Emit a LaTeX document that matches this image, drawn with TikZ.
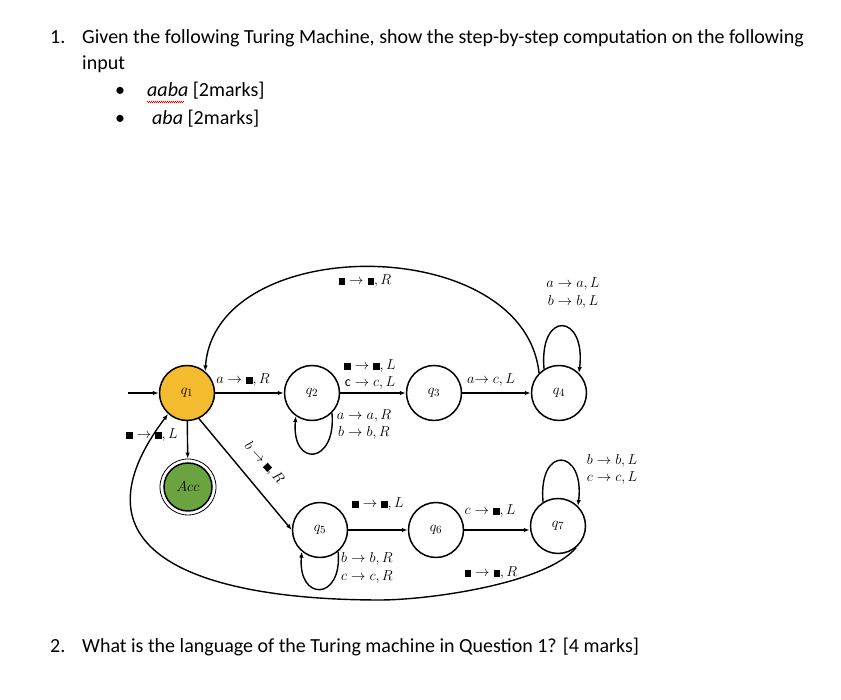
\documentclass[tikz,border=0pt]{standalone}
\usepackage{amssymb}
\usepackage{fontspec}
\setmainfont{Carlito}
\usetikzlibrary{arrows.meta,decorations.pathmorphing}
\definecolor{qone}{RGB}{244,187,46}
\definecolor{accg}{RGB}{106,163,63}
\newcommand{\blk}{\mbox{\rule{6.5pt}{6.5pt}}}
\begin{document}
\begin{tikzpicture}[x=1pt,y=1pt,
  state/.style={circle,draw,line width=1.5pt,minimum size=55pt,inner sep=0pt,font=\fontsize{15}{17}\selectfont},
  tr/.style={line width=1.4pt,-{Latex[length=6pt,width=4.5pt]}},
  lbl/.style={font=\fontsize{14}{16}\selectfont,inner sep=1pt},
  hd/.style={font=\fontsize{20}{24}\selectfont,anchor=base west,inner sep=0pt}]
\useasboundingbox (0,0) rectangle (841,700);
% header text
\node[hd] (n1) at (50,656) {1.};
\node[hd] (t1) at (82,656) {Given the following Turing Machine, show the step-by-step computation on the following};
\node[hd] (t2) at (82,630) {input};
\node[hd] (b1) at (115,603) {\textbullet};
\node[hd] (l1) at (147,603) {\textit{aaba} [2marks]};
\node[hd] (b2) at (115,575) {\textbullet};
\node[hd] (l2) at (152,575) {\textit{aba} [2marks]};
\draw[red,line width=0.5pt,decorate,decoration={zigzag,amplitude=0.8pt,segment length=2pt}] (147,598) -- (184,598);
\node[hd] (n2) at (50,47) {2.};
\node[hd] (t3) at (82,47) {What is the language of the Turing machine in Question 1? [4 marks]};
% states
\node[state,fill=qone] (q1) at (187,307) {$q_1$};
\node[state] (q2) at (312,307) {$q_2$};
\node[state] (q3) at (434,307) {$q_3$};
\node[state] (q4) at (559,307) {$q_4$};
\node[state] (q5) at (320,170) {$q_5$};
\node[state] (q6) at (436,170) {$q_6$};
\node[state] (q7) at (558,174) {$q_7$};
\node[circle,draw,line width=0.8pt,minimum size=56pt,inner sep=0pt] (acco) at (188,213) {};
\node[circle,draw,line width=1.5pt,fill=accg,minimum size=48pt,inner sep=0pt,font=\fontsize{15}{17}\selectfont] (acc) at (188,213) {$Acc$};
% connectors
\coordinate (start) at (128,307);
\draw[tr] (start) -- (q1);
\draw[tr] (q1) -- (q2);
\draw[tr] (q2) -- (q3);
\draw[tr] (q3) -- (q4);
\draw[tr] (q4.135) .. controls (524,468) and (215,468) .. (q1.50);
\draw[tr] (q4.122) .. controls +(95:60) and +(83:60) .. (q4.45);
\draw[tr] (q2.-45) .. controls +(-85:52) and +(-95:52) .. (q2.-125);
\draw[tr] (q1) -- (acco);
\draw[tr] (q1.-65) -- (q5.west);
\draw[tr] (q5) -- (q6);
\draw[tr] (q6) -- (q6 -| q7.west);
\draw[tr] (q5.-50) .. controls +(-85:50) and +(-95:50) .. (q5.-130);
\draw[tr] (q7.122) .. controls +(95:58) and +(83:58) .. (q7.45);
\coordinate (bot) at (380,100);
\draw[tr] (q7.-50) to[out=-130,in=0,looseness=0.6] (bot) to[out=180,in=233,looseness=1.6] (q1.228);
% labels
\node[lbl] (L12) at (243,320) {$a \rightarrow \blk, R$};
\node[lbl] (L23a) at (370,334) {$\blk \rightarrow \blk, L$};
\node[lbl] (L23b) at (370,317) {$\mathrm{c} \rightarrow c, L$};
\node[lbl] (L34) at (491,320) {$a{\rightarrow}\; c, L$};
\node[lbl] (Ltop) at (365,419) {$\blk \rightarrow \blk, R$};
\node[lbl] (L44a) at (573,416) {$a \rightarrow a, L$};
\node[lbl] (L44b) at (573,398) {$b \rightarrow b, L$};
\node[lbl] (L22a) at (364,284) {$a \rightarrow a, R$};
\node[lbl] (L22b) at (364,267) {$b \rightarrow b, R$};
\node[lbl] (L1acc) at (152,265) {$\blk \rightarrow \blk, L$};
\node[lbl,rotate=-48] (L15) at (264,237) {$b \rightarrow \blk, R$};
\node[lbl] (L56) at (378,196) {$\blk \rightarrow \blk, L$};
\node[lbl] (L55a) at (367,141) {$b \rightarrow b, R$};
\node[lbl] (L55b) at (367,123) {$c \rightarrow c, R$};
\node[lbl] (L67) at (490,189) {$c \rightarrow \blk, L$};
\node[lbl] (L77a) at (612,239) {$b \rightarrow b, L$};
\node[lbl] (L77b) at (612,222) {$c \rightarrow c, L$};
\node[lbl] (Lbot) at (491,127) {$\blk \rightarrow \blk, R$};
\end{tikzpicture}
\end{document}
